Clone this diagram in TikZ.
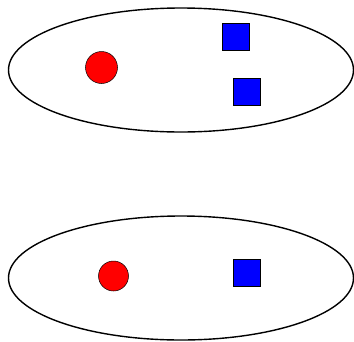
\documentclass[tikz,border=0pt]{standalone}
\usetikzlibrary{shapes.geometric}

\begin{document}
\begin{tikzpicture}[x=1pt, y=-1pt,
	groupset/.style={draw, ellipse, line width=1.4pt, minimum width=345pt, minimum height=124pt, inner sep=0pt},
	redball/.style={draw, circle, fill=red, line width=0.5pt, inner sep=0pt},
	bluebox/.style={draw, rectangle, fill=blue, line width=0.5pt, minimum size=27pt, inner sep=0pt}]
	\useasboundingbox (0,0) rectangle (354,341);
	% upper set
	\node[groupset] (upper) at (181,70) {};
	\node[redball, minimum size=32pt] (upperball) at (101.5,67.5) {};
	\node[bluebox] (upperboxa) at (236,37) {};
	\node[bluebox] (upperboxb) at (247,92) {};
	% lower set
	\node[groupset] (lower) at (181,278) {};
	\node[redball, minimum size=30pt] (lowerball) at (113.5,276) {};
	\node[bluebox] (lowerbox) at (247,273) {};
\end{tikzpicture}
\end{document}
